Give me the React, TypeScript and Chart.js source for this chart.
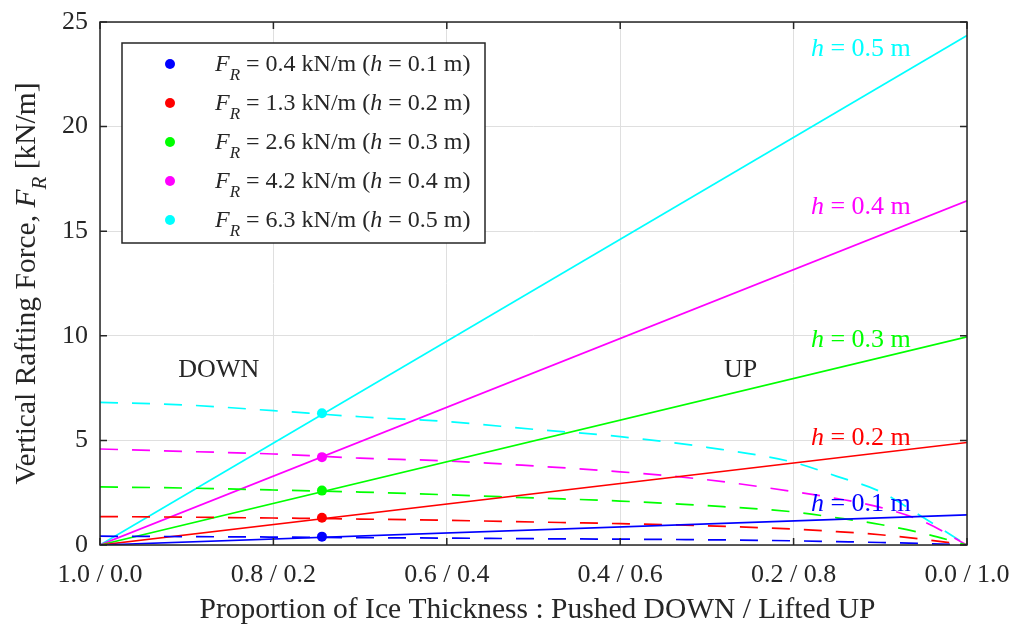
import React, { useEffect, useRef } from 'react';
import { Chart, registerables } from 'chart.js';

Chart.register(...registerables);

// ---------------- data ----------------
const thicknessLabels = ['0.1', '0.2', '0.3', '0.4', '0.5'];
const forceLabels = ['0.4', '1.3', '2.6', '4.2', '6.3'];
const seriesColors = ['#0000ff', '#ff0000', '#00ff00', '#ff00ff', '#00ffff'];

// solid lines: force from the lifted-up portion
const xLifted = [0, 1];
const liftedH01 = [0, 1.44];
const liftedH02 = [0, 4.9];
const liftedH03 = [0, 9.95];
const liftedH04 = [0, 16.45];
const liftedH05 = [0, 24.35];

// dashed lines: force from the pushed-down portion
const xPushed = [0, 0.1, 0.2, 0.3, 0.4, 0.5, 0.6, 0.7, 0.8, 0.85, 0.9, 0.95, 1.0];
const pushedH01 = [0.42, 0.4, 0.38, 0.35, 0.33, 0.3, 0.28, 0.25, 0.2, 0.16, 0.12, 0.07, 0];
const pushedH02 = [1.36, 1.33, 1.29, 1.24, 1.18, 1.1, 1.02, 0.92, 0.76, 0.64, 0.49, 0.27, 0];
const pushedH03 = [2.78, 2.72, 2.63, 2.53, 2.4, 2.25, 2.1, 1.88, 1.58, 1.3, 0.98, 0.55, 0];
const pushedH04 = [4.59, 4.47, 4.35, 4.15, 4.02, 3.78, 3.5, 3.12, 2.55, 2.22, 1.8, 1.12, 0];
const pushedH05 = [6.82, 6.69, 6.42, 6.13, 5.9, 5.53, 5.18, 4.67, 3.95, 3.28, 2.55, 1.3, 0];

// equilibrium markers
const markerX = [0.256];
const markerValues = [0.4, 1.3, 2.6, 4.2, 6.3];

const xTickValues = [0, 0.2, 0.4, 0.6, 0.8, 1.0];
const xTickLabels = ['1.0 / 0.0', '0.8 / 0.2', '0.6 / 0.4', '0.4 / 0.6', '0.2 / 0.8', '0.0 / 1.0'];
const yTickValues = [0, 5, 10, 15, 20, 25];

const xAxisTitle = 'Proportion of Ice Thickness : Pushed DOWN / Lifted UP';
const yAxisTitleMain = 'Vertical Rafting Force, ';
const yAxisTitleUnit = ' [kN/m]';
const regionLabels = ['DOWN', 'UP'];

// ---------------- styling / layout ----------------
const FAMILY = '"Liberation Serif", "Times New Roman", serif';
const AXIS_COLOR = '#262626';
const GRID_COLOR = '#dfdfdf';
const TICK_SIZE = 26;
const TITLE_SIZE = 29.5;
const LEGEND_SIZE = 24;
const ANNOT_SIZE = 26;

const hLabelPos = { x: 0.82, y: [2.05, 5.2, 9.9, 16.25, 23.8] };
const regionPos = [
  { x: 0.137, y: 8.35 },
  { x: 0.739, y: 8.35 },
];
const legendBox = { left: 122, top: 43, right: 485, bottom: 243, markerX: 170, textX: 215, firstRow: 64, rowGap: 39 };

type Part = { t: string; it?: boolean; sub?: boolean };

function fontFor(p: Part, size: number) {
  const s = p.sub ? Math.round(size * 0.72) : size;
  return `${p.it ? 'italic ' : ''}${s}px ${FAMILY}`;
}

function richWidth(ctx: CanvasRenderingContext2D, parts: Part[], size: number) {
  let w = 0;
  parts.forEach((p) => {
    ctx.font = fontFor(p, size);
    w += ctx.measureText(p.t).width;
  });
  return w;
}

function drawRich(ctx: CanvasRenderingContext2D, parts: Part[], x: number, y: number, size: number, color: string) {
  let cx = x;
  ctx.fillStyle = color;
  ctx.textAlign = 'left';
  ctx.textBaseline = 'alphabetic';
  parts.forEach((p) => {
    ctx.font = fontFor(p, size);
    ctx.fillText(p.t, cx, y + (p.sub ? size * 0.36 : 0));
    cx += ctx.measureText(p.t).width;
  });
}

const overlayPlugin = {
  id: 'overlay',
  afterDraw(chart: any) {
    const ctx: CanvasRenderingContext2D = chart.ctx;
    const a = chart.chartArea;
    const xs = chart.scales.x;
    const ys = chart.scales.y;
    ctx.save();

    // axes box
    ctx.strokeStyle = AXIS_COLOR;
    ctx.lineWidth = 1.5;
    ctx.strokeRect(a.left, a.top, a.right - a.left, a.bottom - a.top);

    // inward ticks
    ctx.beginPath();
    xTickValues.forEach((v) => {
      const px = xs.getPixelForValue(v);
      ctx.moveTo(px, a.bottom);
      ctx.lineTo(px, a.bottom - 7);
      ctx.moveTo(px, a.top);
      ctx.lineTo(px, a.top + 7);
    });
    yTickValues.forEach((v) => {
      const py = ys.getPixelForValue(v);
      ctx.moveTo(a.left, py);
      ctx.lineTo(a.left + 7, py);
      ctx.moveTo(a.right, py);
      ctx.lineTo(a.right - 7, py);
    });
    ctx.stroke();

    // x axis title
    ctx.fillStyle = AXIS_COLOR;
    ctx.font = `${TITLE_SIZE}px ${FAMILY}`;
    ctx.textAlign = 'center';
    ctx.textBaseline = 'alphabetic';
    ctx.fillText(xAxisTitle, (a.left + a.right) / 2 + 4, 618);

    // y axis title (rotated, with subscript)
    const yParts: Part[] = [
      { t: yAxisTitleMain },
      { t: 'F', it: true },
      { t: 'R', it: true, sub: true },
      { t: yAxisTitleUnit },
    ];
    const yw = richWidth(ctx, yParts, TITLE_SIZE);
    ctx.save();
    ctx.translate(35, (a.top + a.bottom) / 2);
    ctx.rotate(-Math.PI / 2);
    drawRich(ctx, yParts, -yw / 2, 0, TITLE_SIZE, AXIS_COLOR);
    ctx.restore();

    // region labels
    ctx.font = `${ANNOT_SIZE}px ${FAMILY}`;
    ctx.fillStyle = AXIS_COLOR;
    ctx.textAlign = 'center';
    ctx.textBaseline = 'middle';
    regionLabels.forEach((t, i) => {
      ctx.fillText(t, xs.getPixelForValue(regionPos[i].x), ys.getPixelForValue(regionPos[i].y));
    });

    // h labels
    thicknessLabels.forEach((h, i) => {
      const parts: Part[] = [{ t: 'h', it: true }, { t: ` = ${h} m` }];
      const px = xs.getPixelForValue(hLabelPos.x);
      const py = ys.getPixelForValue(hLabelPos.y[i]) + 9;
      drawRich(ctx, parts, px, py, ANNOT_SIZE, seriesColors[i]);
    });

    // legend
    const L = legendBox;
    ctx.fillStyle = '#ffffff';
    ctx.fillRect(L.left, L.top, L.right - L.left, L.bottom - L.top);
    ctx.strokeStyle = AXIS_COLOR;
    ctx.lineWidth = 1.5;
    ctx.strokeRect(L.left, L.top, L.right - L.left, L.bottom - L.top);
    thicknessLabels.forEach((h, i) => {
      const cy = L.firstRow + i * L.rowGap;
      ctx.beginPath();
      ctx.fillStyle = seriesColors[i];
      ctx.arc(L.markerX, cy, 5, 0, Math.PI * 2);
      ctx.fill();
      const parts: Part[] = [
        { t: 'F', it: true },
        { t: 'R', it: true, sub: true },
        { t: ` = ${forceLabels[i]} kN/m (` },
        { t: 'h', it: true },
        { t: ` = ${h} m)` },
      ];
      drawRich(ctx, parts, L.textX, cy + 7, LEGEND_SIZE, AXIS_COLOR);
    });

    ctx.restore();
  },
};

function pts(xs: number[], ys: number[]) {
  return xs.map((x, i) => ({ x, y: ys[i] }));
}

function zeroPadding(s: any) {
  s.paddingTop = 0;
  s.paddingBottom = 0;
  s.paddingLeft = 0;
  s.paddingRight = 0;
}

export default function App() {
  const ref = useRef<HTMLCanvasElement>(null);

  useEffect(() => {
    const canvas = ref.current;
    if (!canvas) return;
    const lifted = [liftedH01, liftedH02, liftedH03, liftedH04, liftedH05];
    const pushed = [pushedH01, pushedH02, pushedH03, pushedH04, pushedH05];
    const datasets: any[] = [];
    seriesColors.forEach((c, i) => {
      datasets.push({
        label: `marker h=${thicknessLabels[i]}`,
        data: pts(markerX, [markerValues[i]]),
        showLine: false,
        pointRadius: 5,
        pointBackgroundColor: c,
        pointBorderColor: c,
        pointBorderWidth: 0,
        borderColor: c,
      });
    });
    seriesColors.forEach((c, i) => {
      datasets.push({
        label: `lifted h=${thicknessLabels[i]}`,
        data: pts(xLifted, lifted[i]),
        borderColor: c,
        borderWidth: 1.7,
        pointRadius: 0,
        fill: false,
      });
      datasets.push({
        label: `pushed h=${thicknessLabels[i]}`,
        data: pts(xPushed, pushed[i]),
        borderColor: c,
        borderWidth: 1.7,
        borderDash: [18, 14],
        pointRadius: 0,
        cubicInterpolationMode: 'monotone',
        fill: false,
      });
    });

    const chart = new Chart(canvas, {
      type: 'line',
      data: { datasets },
      options: {
        animation: false,
        responsive: false,
        events: [],
        layout: { padding: { left: 0, right: 47, top: 22, bottom: 0 } },
        plugins: { legend: { display: false }, tooltip: { enabled: false } },
        scales: {
          x: {
            type: 'linear',
            min: 0,
            max: 1,
            afterFit: (s: any) => {
              s.height = 81;
              zeroPadding(s);
            },
            afterBuildTicks: (s: any) => {
              s.ticks = xTickValues.map((v) => ({ value: v }));
            },
            ticks: {
              callback: (_v: any, i: number) => xTickLabels[i],
              padding: 15,
              maxRotation: 0,
              autoSkip: false,
              color: AXIS_COLOR,
              font: { family: FAMILY, size: TICK_SIZE },
            },
            grid: { color: GRID_COLOR, drawTicks: false, lineWidth: 1 },
            border: { display: false },
          },
          y: {
            type: 'linear',
            min: 0,
            max: 25,
            afterFit: (s: any) => {
              s.width = 100;
              zeroPadding(s);
            },
            afterBuildTicks: (s: any) => {
              s.ticks = yTickValues.map((v) => ({ value: v }));
            },
            ticks: {
              padding: 12,
              color: AXIS_COLOR,
              font: { family: FAMILY, size: TICK_SIZE },
            },
            grid: { color: GRID_COLOR, drawTicks: false, lineWidth: 1 },
            border: { display: false },
          },
        },
      } as any,
      plugins: [overlayPlugin],
    });
    return () => chart.destroy();
  }, []);

  return (
    <div style={{ position: 'absolute', left: 0, top: 0, width: 1014, height: 626, background: '#fff' }}>
      <canvas ref={ref} width={1014} height={626} style={{ display: 'block' }} />
    </div>
  );
}
